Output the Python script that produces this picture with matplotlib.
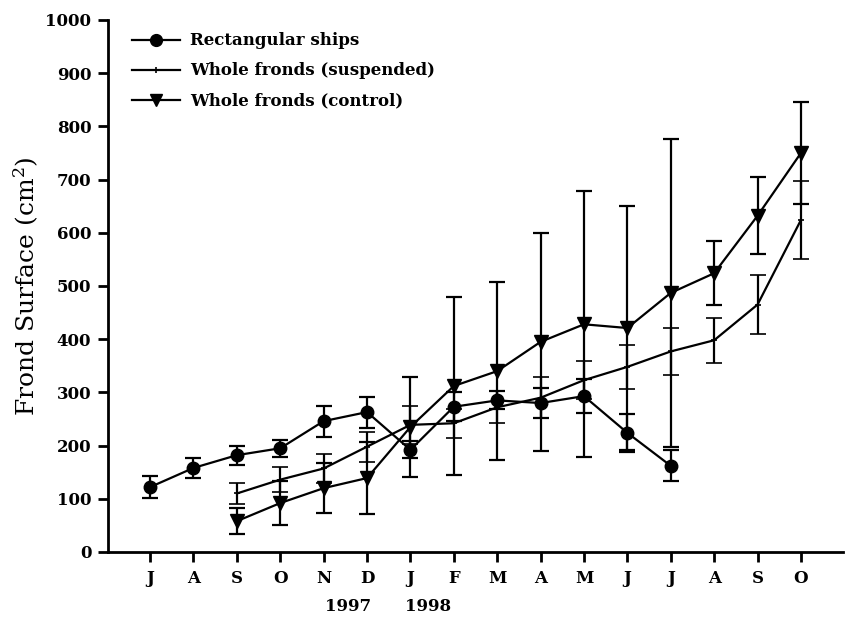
import matplotlib
matplotlib.use("Agg")
import matplotlib.pyplot as plt
from matplotlib.lines import Line2D
import numpy as np

months = ["J", "A", "S", "O", "N", "D", "J", "F", "M", "A", "M", "J", "J", "A", "S", "O"]
years = ["1997", "1998"]

rect_x = [0, 1, 2, 3, 4, 5, 6, 7, 8, 9, 10, 11, 12]
rect_y = [122, 158, 182, 195, 246, 263, 192, 273, 285, 280, 293, 224, 162]
rect_err = [20, 18, 18, 16, 29, 29, 16, 27, 17, 29, 32, 36, 29]

susp_x = [2, 3, 4, 5, 6, 7, 8, 9, 10, 11, 12, 13, 14, 15]
susp_y = [110, 136, 157, 198, 239, 242, 272, 290, 323, 348, 377, 398, 465, 624]
susp_err = [19, 24, 27, 28, 36, 27, 30, 39, 36, 41, 44, 42, 55, 73]

ctrl_x = [2, 3, 4, 5, 6, 7, 8, 9, 10, 11, 12, 13, 14, 15]
ctrl_y = [58, 92, 120, 139, 235, 312, 340, 395, 428, 421, 487, 524, 632, 750]
ctrl_err = [25, 41, 47, 68, 94, 167, 167, 205, 250, 230, 290, 60, 72, 96]

labels = ["Rectangular ships", "Whole fronds (suspended)", "Whole fronds (control)"]

fig = plt.figure(figsize=(8.46, 6.19), dpi=100)
ax = fig.add_axes([108/846, 67/619, (843-108)/846, 532/619])

serif = ["DejaVu Serif"]
lw = 1.6
ekw = dict(color="black", lw=lw, capsize=6, capthick=lw, elinewidth=lw)

ax.errorbar(rect_x, rect_y, yerr=rect_err, marker="o", markersize=9, **ekw)
ax.errorbar(susp_x, susp_y, yerr=susp_err, marker="+", markersize=4, mew=1.2, **ekw)
ax.errorbar(ctrl_x, ctrl_y, yerr=ctrl_err, marker="v", markersize=9.5, **ekw)

ax.set_xlim(-0.97, 15.97)
ax.set_ylim(0, 1000)
ax.set_xticks(range(len(months)))
ax.set_xticklabels(months)
ax.set_yticks(np.arange(0, 1001, 100))

for s in ["top", "right"]:
    ax.spines[s].set_visible(False)
for s in ["left", "bottom"]:
    ax.spines[s].set_linewidth(2)

ax.tick_params(axis="y", direction="out", length=7, width=2, pad=5)
ax.tick_params(axis="x", direction="out", length=7, width=2, pad=6)
for lab in ax.get_yticklabels() + ax.get_xticklabels():
    lab.set_fontfamily(serif)
    lab.set_fontweight("bold")
    lab.set_fontsize(12)

ax.set_ylabel("Frond Surface (cm$^2$)", fontfamily=serif, fontsize=18, labelpad=3)
ax.yaxis.label.set_math_fontfamily("dejavuserif")

ax.text(4.56, -0.103, years[0], transform=ax.get_xaxis_transform(), ha="center",
        va="center", fontfamily=serif, fontweight="bold", fontsize=12)
ax.text(6.4, -0.103, years[1], transform=ax.get_xaxis_transform(), ha="center",
        va="center", fontfamily=serif, fontweight="bold", fontsize=12)

handles = [
    Line2D([], [], color="black", lw=lw, marker="o", markersize=8.5),
    Line2D([], [], color="black", lw=lw, marker="+", markersize=4, mew=1.2),
    Line2D([], [], color="black", lw=lw, marker="v", markersize=8.5),
]
ax.legend(handles, labels, loc="upper left", bbox_to_anchor=(0.012, 1.005), frameon=False,
          prop=dict(family=serif, weight="bold", size=12),
          handlelength=2.9, labelspacing=0.78, handletextpad=0.6)

fig.savefig("out.png", dpi=100)
